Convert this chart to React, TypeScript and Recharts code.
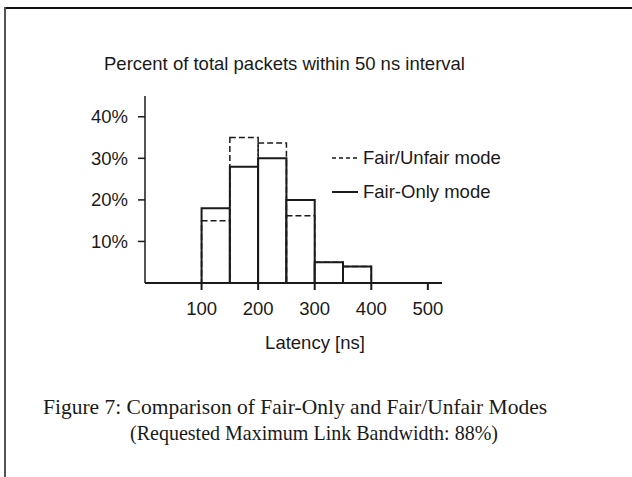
import { ComposedChart, XAxis, YAxis, ReferenceArea } from "recharts";

// latency bins (ns), 50 ns wide
const binEdges = [100, 150, 200, 250, 300, 350, 400];
const fairOnly = [18, 28, 30, 20, 5, 4];
const fairUnfair = [15, 35, 33.7, 16.2, 5, 4];

const xTicks = [100, 200, 300, 400, 500];
const yTicks = [10, 20, 30, 40];

const INK = "#1a1a1a";
const SANS = "'Liberation Sans', Arial, sans-serif";
const SERIF = "'Liberation Serif', 'Times New Roman', serif";
const FS = 18.5;

export default function App() {
  const bins = fairOnly.map((v, i) => ({
    x1: binEdges[i],
    x2: binEdges[i + 1],
    solid: v,
    dashed: fairUnfair[i],
  }));

  return (
    <div
      style={{
        position: "absolute",
        left: 0,
        top: 0,
        width: 632,
        height: 477,
        background: "#fff",
        fontFamily: SANS,
        overflow: "hidden",
      }}
    >
      {/* page frame */}
      <div style={{ position: "absolute", left: 4, top: 7, right: 0, height: 2, background: "#111" }} />
      <div style={{ position: "absolute", left: 4, top: 7, bottom: 0, width: 2, background: "#555" }} />

      <div style={{ position: "absolute", left: 0, top: 0 }}>
        <ComposedChart
          width={632}
          height={477}
          data={bins}
          margin={{ top: 96, right: 190, bottom: 134, left: 85 }}
        >
          <XAxis
            type="number"
            dataKey="x1"
            domain={[0, 525]}
            ticks={xTicks}
            allowDataOverflow
            height={60}
            stroke={INK}
            strokeWidth={2}
            tickSize={7}
            tickMargin={12}
            tick={{ fill: INK, fontSize: FS, fontFamily: SANS }}
          />
          <YAxis
            type="number"
            domain={[0, 45]}
            ticks={yTicks}
            allowDataOverflow
            width={60}
            stroke={INK}
            strokeWidth={1.5}
            tickSize={7}
            tickMargin={10}
            tickFormatter={(v) => `${v}%`}
            tick={{ fill: INK, fontSize: FS, fontFamily: SANS }}
          />
          {/* Fair-Only mode: solid bars */}
          {bins.map((b, i) => (
            <ReferenceArea
              key={`s-${i}`}
              x1={b.x1}
              x2={b.x2}
              y1={0}
              y2={b.solid}
              fill="#fff"
              fillOpacity={1}
              stroke={INK}
              strokeWidth={2}
              ifOverflow="visible"
            />
          ))}
          {/* Fair/Unfair mode: dashed outline */}
          {bins.map((b, i) => (
            <ReferenceArea
              key={`d-${i}`}
              x1={b.x1}
              x2={b.x2}
              y1={0}
              y2={b.dashed}
              fill="none"
              stroke={INK}
              strokeWidth={1.5}
              strokeDasharray="6 3"
              ifOverflow="visible"
            />
          ))}
        </ComposedChart>
      </div>

      <svg
        width={632}
        height={477}
        style={{ position: "absolute", left: 0, top: 0, pointerEvents: "none" }}
      >
        <text x={104} y={70} fontSize={FS} fill={INK} fontFamily={SANS}>
          Percent of total packets within 50 ns interval
        </text>

        <line x1={332} x2={358} y1={158} y2={158} stroke={INK} strokeWidth={1.5} strokeDasharray="4 3" />
        <text x={363} y={164} fontSize={FS} fill={INK} fontFamily={SANS}>
          Fair/Unfair mode
        </text>
        <line x1={332} x2={358} y1={192} y2={192} stroke={INK} strokeWidth={2} />
        <text x={363} y={198} fontSize={FS} fill={INK} fontFamily={SANS}>
          Fair-Only mode
        </text>

        <text x={315} y={349} fontSize={FS} fill={INK} fontFamily={SANS} textAnchor="middle">
          Latency [ns]
        </text>

        <text x={43} y={414} fontSize={21.5} fill={INK} fontFamily={SERIF}>
          Figure 7: Comparison of Fair-Only and Fair/Unfair Modes
        </text>
        <text
          x={130}
          y={440}
          fontSize={21.5}
          fill={INK}
          fontFamily={SERIF}
          textLength={368}
          lengthAdjust="spacingAndGlyphs"
        >
          (Requested Maximum Link Bandwidth: 88%)
        </text>
      </svg>
    </div>
  );
}
